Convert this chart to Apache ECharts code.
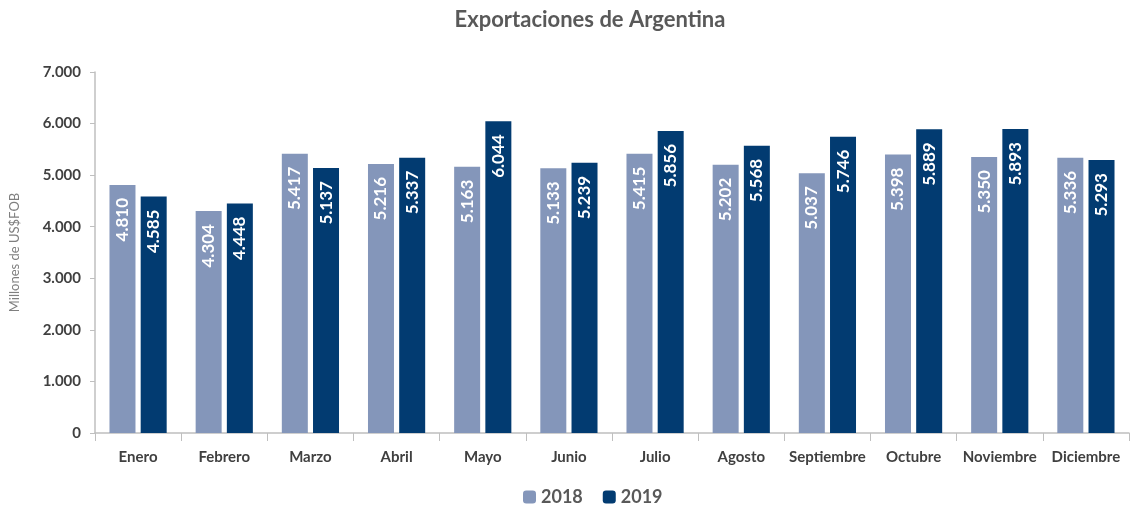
<!DOCTYPE html>
<html>
<head>
<meta charset="utf-8">
<script src="https://cdn.jsdelivr.net/npm/echarts@6/dist/echarts.min.js"></script>
<style>
	html, body { margin: 0; padding: 0; background: #fff; }
	#chart { width: 1132px; height: 511px; }
</style>
</head>
<body>
<div id="chart"></div>
<script>
var months = ['Enero', 'Febrero', 'Marzo', 'Abril', 'Mayo', 'Junio', 'Julio', 'Agosto', 'Septiembre', 'Octubre', 'Noviembre', 'Diciembre'];
var exports2018 = [4810, 4304, 5417, 5216, 5163, 5133, 5415, 5202, 5037, 5398, 5350, 5336];
var exports2019 = [4585, 4448, 5137, 5337, 6044, 5239, 5856, 5568, 5746, 5889, 5893, 5293];
var yTicks = [0, 1000, 2000, 3000, 4000, 5000, 6000, 7000];

var fontFamily = 'Lato, "Open Sans", sans-serif';

// miles con punto, como en el original
function fmt(v){
	var s = String(v);
	if(v >= 1000){
		s = s.slice(0, s.length - 3) + '.' + s.slice(s.length - 3);
	}
	return s;
}

function barLabel(){
	return {
		show: true,
		position: 'insideTop',
		distance: 13,
		rotate: 90,
		align: 'right',
		verticalAlign: 'middle',
		color: '#fff',
		fontFamily: fontFamily,
		fontWeight: 'bold',
		fontSize: 17,
		formatter: function(p){ return fmt(p.value); }
	};
}

var chart = echarts.init(document.getElementById('chart'));
chart.setOption({
	animation: false,
	textStyle: { fontFamily: fontFamily },
	title: {
		text: 'Exportaciones de Argentina',
		left: 585,
		textAlign: 'center',
		top: 4,
		textStyle: { fontFamily: fontFamily, fontSize: 22, fontWeight: 'bold', color: '#595959' }
	},
	legend: {
		bottom: 0,
		left: 518,
		itemWidth: 13,
		itemHeight: 13,
		itemGap: 20,
		textStyle: { fontFamily: fontFamily, fontSize: 18, fontWeight: 'bold', color: '#595959' },
		data: ['2018', '2019']
	},
	grid: { left: 95, right: 3, top: 72, bottom: 78 },
	xAxis: {
		type: 'category',
		data: months,
		axisLine: { lineStyle: { color: '#bfbfbf', width: 1.5 } },
		axisTick: { show: true, length: 8, lineStyle: { color: '#bfbfbf' } },
		axisLabel: { color: '#404040', fontSize: 15, fontWeight: 'bold', margin: 17, interval: 0 }
	},
	yAxis: {
		type: 'value',
		min: yTicks[0],
		max: yTicks[yTicks.length - 1],
		interval: 1000,
		name: 'Millones de US$FOB',
		nameLocation: 'middle',
		nameGap: 74,
		nameTextStyle: { color: '#7f7f7f', fontSize: 13 },
		axisLine: { show: true, lineStyle: { color: '#bfbfbf', width: 1.5 } },
		axisTick: { show: true, length: 5, lineStyle: { color: '#bfbfbf' } },
		splitLine: { show: false },
		axisLabel: {
			color: '#404040', fontSize: 15, fontWeight: 'bold', margin: 14,
			formatter: function(v){ return fmt(v); }
		}
	},
	series: [
		{
			name: '2018',
			type: 'bar',
			data: exports2018,
			barWidth: 26,
			barGap: '20%',
			itemStyle: { color: '#8496ba' },
			label: barLabel()
		},
		{
			name: '2019',
			type: 'bar',
			data: exports2019,
			barWidth: 26,
			itemStyle: { color: '#023b71' },
			label: barLabel()
		}
	]
});
</script>
</body>
</html>
